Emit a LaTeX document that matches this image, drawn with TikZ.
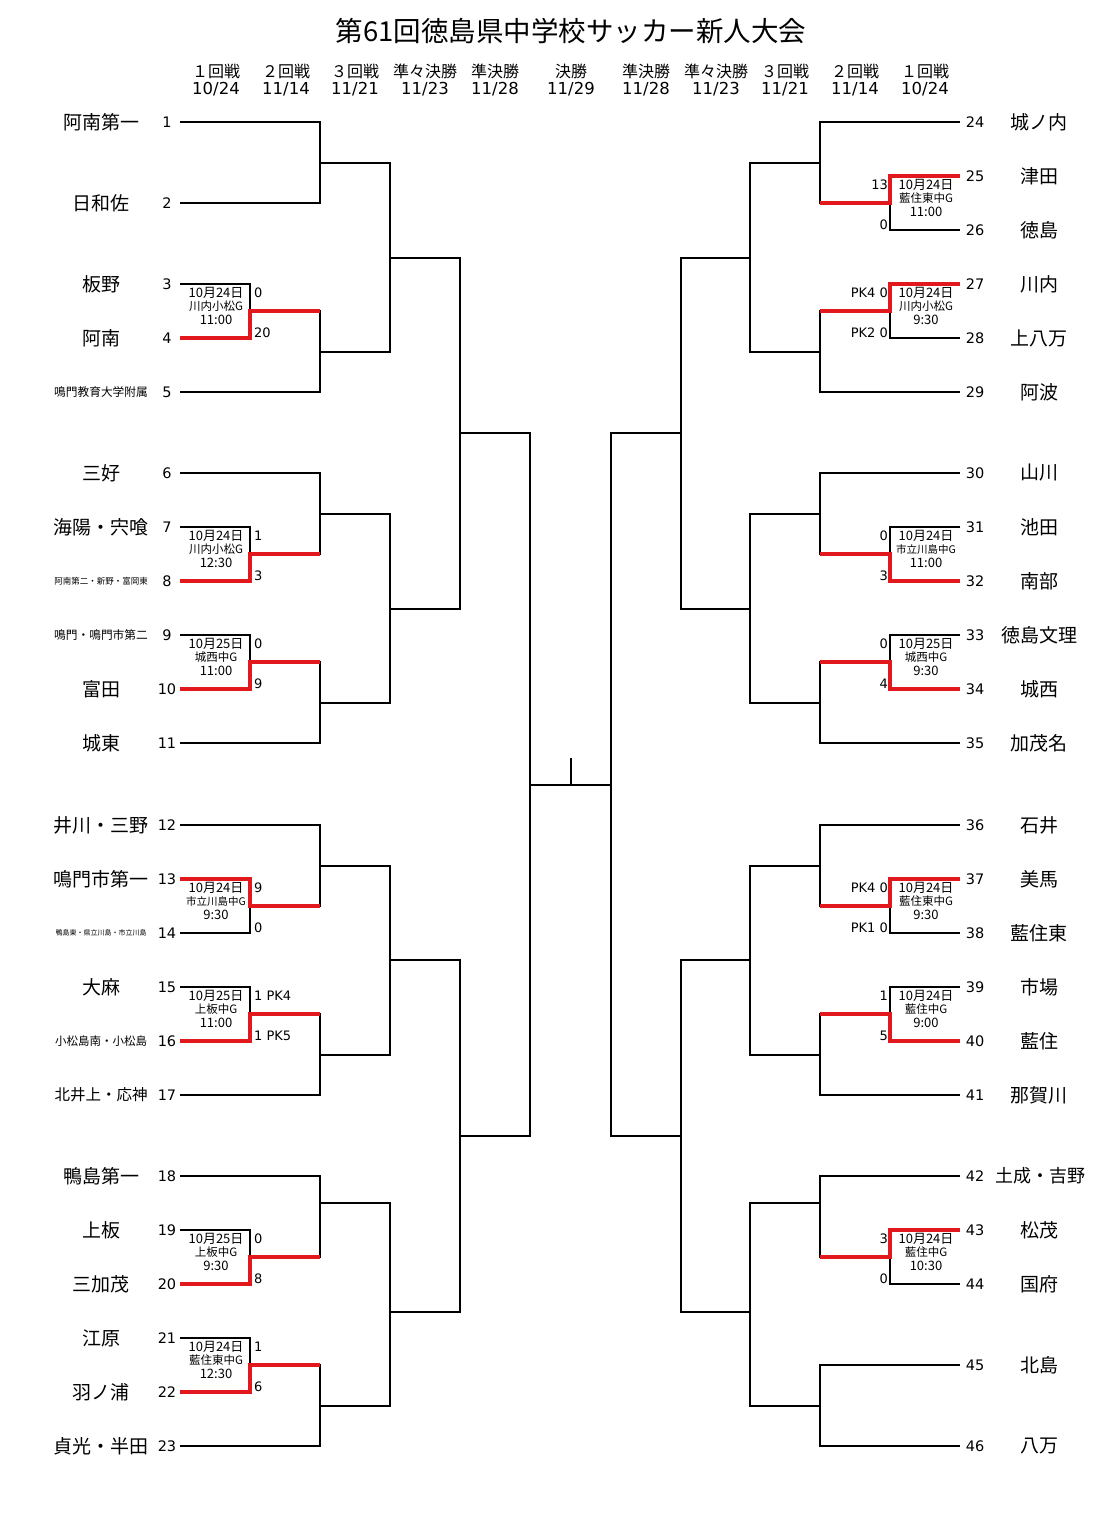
\documentclass[tikz,border=0pt]{standalone}
\usepackage{fontspec}
\setmainfont{Noto Sans CJK JP}
\newfontfamily\numfont{DejaVu Sans}
\usepackage{tikz}
\definecolor{winred}{RGB}{225,25,30}
\newcommand{\venue}[2][11.5]{{\fontsize{#1}{13.5}\selectfont #2}}
\newcommand{\rdate}[1]{{\numfont\fontsize{16.5}{17}\selectfont #1}}

\begin{document}
\begin{tikzpicture}[x=1pt,y=-1pt,every node/.style={inner sep=0pt},
    bracket/.style={line width=2pt},
    winner/.style={winred,line width=4.5pt},
    team/.style={font=\fontsize{19}{19}\selectfont},
    seed/.style={font=\numfont\fontsize{14.5}{15}\selectfont},
    score/.style={font=\numfont\fontsize{13}{13}\selectfont},
    info/.style={align=center,font=\fontsize{13}{13.5}\selectfont},
    roundhead/.style={align=center,font=\fontsize{16}{17}\selectfont}]
    \fill[white] (0,0) rectangle (1093,1533);
    \useasboundingbox (0,0) rectangle (1093,1533);

    \node[font=\fontsize{27.5}{28}\selectfont] (title) at (571,31) {第61回徳島県中学校サッカー新人大会};

    \node[roundhead] (h1) at (216,80) {１回戦\\\rdate{10/24}};
    \node[roundhead] (h2) at (286,80) {２回戦\\\rdate{11/14}};
    \node[roundhead] (h3) at (355,80) {３回戦\\\rdate{11/21}};
    \node[roundhead] (h4) at (425,80) {準々決勝\\\rdate{11/23}};
    \node[roundhead] (h5) at (495,80) {準決勝\\\rdate{11/28}};
    \node[roundhead] (h6) at (571,80) {決勝\\\rdate{11/29}};
    \node[roundhead] (h7) at (646,80) {準決勝\\\rdate{11/28}};
    \node[roundhead] (h8) at (716,80) {準々決勝\\\rdate{11/23}};
    \node[roundhead] (h9) at (785,80) {３回戦\\\rdate{11/21}};
    \node[roundhead] (h10) at (855,80) {２回戦\\\rdate{11/14}};
    \node[roundhead] (h11) at (925,80) {１回戦\\\rdate{10/24}};

    \node[team] (nm1) at (101,122) {阿南第一};
    \node[team] (nm2) at (101,203) {日和佐};
    \node[team] (nm3) at (101,284) {板野};
    \node[team] (nm4) at (101,338) {阿南};
    \node[team,font=\fontsize{11.7}{12}\selectfont] (nm5) at (101,392) {鳴門教育大学附属};
    \node[team] (nm6) at (101,473) {三好};
    \node[team] (nm7) at (101,527) {海陽・宍喰};
    \node[team,font=\fontsize{8.5}{9}\selectfont] (nm8) at (101,581) {阿南第二・新野・富岡東};
    \node[team,font=\fontsize{11.7}{12}\selectfont] (nm9) at (101,635) {鳴門・鳴門市第二};
    \node[team] (nm10) at (101,689) {富田};
    \node[team] (nm11) at (101,743) {城東};
    \node[team] (nm12) at (101,825) {井川・三野};
    \node[team] (nm13) at (101,879) {鳴門市第一};
    \node[team,font=\fontsize{7}{7}\selectfont] (nm14) at (101,933) {鴨島東・県立川島・市立川島};
    \node[team] (nm15) at (101,987) {大麻};
    \node[team,font=\fontsize{11.5}{12}\selectfont] (nm16) at (101,1041) {小松島南・小松島};
    \node[team,font=\fontsize{15.5}{16}\selectfont] (nm17) at (101,1095) {北井上・応神};
    \node[team] (nm18) at (101,1176) {鴨島第一};
    \node[team] (nm19) at (101,1230) {上板};
    \node[team] (nm20) at (101,1284) {三加茂};
    \node[team] (nm21) at (101,1338) {江原};
    \node[team] (nm22) at (101,1392) {羽ノ浦};
    \node[team] (nm23) at (101,1446) {貞光・半田};

    \node[team] (nm24) at (1039,122) {城ノ内};
    \node[team] (nm25) at (1039,176) {津田};
    \node[team] (nm26) at (1039,230) {徳島};
    \node[team] (nm27) at (1039,284) {川内};
    \node[team] (nm28) at (1039,338) {上八万};
    \node[team] (nm29) at (1039,392) {阿波};
    \node[team] (nm30) at (1039,473) {山川};
    \node[team] (nm31) at (1039,527) {池田};
    \node[team] (nm32) at (1039,581) {南部};
    \node[team] (nm33) at (1039,635) {徳島文理};
    \node[team] (nm34) at (1039,689) {城西};
    \node[team] (nm35) at (1039,743) {加茂名};
    \node[team] (nm36) at (1039,825) {石井};
    \node[team] (nm37) at (1039,879) {美馬};
    \node[team] (nm38) at (1039,933) {藍住東};
    \node[team] (nm39) at (1039,987) {市場};
    \node[team] (nm40) at (1039,1041) {藍住};
    \node[team] (nm41) at (1039,1095) {那賀川};
    \node[team,font=\fontsize{18}{18}\selectfont] (nm42) at (1040,1176) {土成・吉野};
    \node[team] (nm43) at (1039,1230) {松茂};
    \node[team] (nm44) at (1039,1284) {国府};
    \node[team] (nm45) at (1039,1365) {北島};
    \node[team] (nm46) at (1039,1446) {八万};

    \node[seed] (s1) at (167,122) {1};
    \node[seed] (s2) at (167,203) {2};
    \node[seed] (s3) at (167,284) {3};
    \node[seed] (s4) at (167,338) {4};
    \node[seed] (s5) at (167,392) {5};
    \node[seed] (s6) at (167,473) {6};
    \node[seed] (s7) at (167,527) {7};
    \node[seed] (s8) at (167,581) {8};
    \node[seed] (s9) at (167,635) {9};
    \node[seed] (s10) at (167,689) {10};
    \node[seed] (s11) at (167,743) {11};
    \node[seed] (s12) at (167,825) {12};
    \node[seed] (s13) at (167,879) {13};
    \node[seed] (s14) at (167,933) {14};
    \node[seed] (s15) at (167,987) {15};
    \node[seed] (s16) at (167,1041) {16};
    \node[seed] (s17) at (167,1095) {17};
    \node[seed] (s18) at (167,1176) {18};
    \node[seed] (s19) at (167,1230) {19};
    \node[seed] (s20) at (167,1284) {20};
    \node[seed] (s21) at (167,1338) {21};
    \node[seed] (s22) at (167,1392) {22};
    \node[seed] (s23) at (167,1446) {23};
    \node[seed] (s24) at (975,122) {24};
    \node[seed] (s25) at (975,176) {25};
    \node[seed] (s26) at (975,230) {26};
    \node[seed] (s27) at (975,284) {27};
    \node[seed] (s28) at (975,338) {28};
    \node[seed] (s29) at (975,392) {29};
    \node[seed] (s30) at (975,473) {30};
    \node[seed] (s31) at (975,527) {31};
    \node[seed] (s32) at (975,581) {32};
    \node[seed] (s33) at (975,635) {33};
    \node[seed] (s34) at (975,689) {34};
    \node[seed] (s35) at (975,743) {35};
    \node[seed] (s36) at (975,825) {36};
    \node[seed] (s37) at (975,879) {37};
    \node[seed] (s38) at (975,933) {38};
    \node[seed] (s39) at (975,987) {39};
    \node[seed] (s40) at (975,1041) {40};
    \node[seed] (s41) at (975,1095) {41};
    \node[seed] (s42) at (975,1176) {42};
    \node[seed] (s43) at (975,1230) {43};
    \node[seed] (s44) at (975,1284) {44};
    \node[seed] (s45) at (975,1365) {45};
    \node[seed] (s46) at (975,1446) {46};

    \coordinate (t1) at (180,122);
    \coordinate (t2) at (180,203);
    \coordinate (t3) at (180,284);
    \coordinate (t4) at (180,338);
    \coordinate (t5) at (180,392);
    \coordinate (t6) at (180,473);
    \coordinate (t7) at (180,527);
    \coordinate (t8) at (180,581);
    \coordinate (t9) at (180,635);
    \coordinate (t10) at (180,689);
    \coordinate (t11) at (180,743);
    \coordinate (t12) at (180,825);
    \coordinate (t13) at (180,879);
    \coordinate (t14) at (180,933);
    \coordinate (t15) at (180,987);
    \coordinate (t16) at (180,1041);
    \coordinate (t17) at (180,1095);
    \coordinate (t18) at (180,1176);
    \coordinate (t19) at (180,1230);
    \coordinate (t20) at (180,1284);
    \coordinate (t21) at (180,1338);
    \coordinate (t22) at (180,1392);
    \coordinate (t23) at (180,1446);
    \coordinate (t24) at (960,122);
    \coordinate (t25) at (960,176);
    \coordinate (t26) at (960,230);
    \coordinate (t27) at (960,284);
    \coordinate (t28) at (960,338);
    \coordinate (t29) at (960,392);
    \coordinate (t30) at (960,473);
    \coordinate (t31) at (960,527);
    \coordinate (t32) at (960,581);
    \coordinate (t33) at (960,635);
    \coordinate (t34) at (960,689);
    \coordinate (t35) at (960,743);
    \coordinate (t36) at (960,825);
    \coordinate (t37) at (960,879);
    \coordinate (t38) at (960,933);
    \coordinate (t39) at (960,987);
    \coordinate (t40) at (960,1041);
    \coordinate (t41) at (960,1095);
    \coordinate (t42) at (960,1176);
    \coordinate (t43) at (960,1230);
    \coordinate (t44) at (960,1284);
    \coordinate (t45) at (960,1365);
    \coordinate (t46) at (960,1446);

    \coordinate (a34) at (250,311);
    \coordinate (a78) at (250,554);
    \coordinate (a910) at (250,662);
    \coordinate (a1314) at (250,906);
    \coordinate (a1516) at (250,1014);
    \coordinate (a1920) at (250,1257);
    \coordinate (a2122) at (250,1365);
    \coordinate (b12) at (320,163);
    \coordinate (b345) at (320,352);
    \coordinate (b678) at (320,514);
    \coordinate (b911) at (320,703);
    \coordinate (b1214) at (320,866);
    \coordinate (b1517) at (320,1055);
    \coordinate (b1820) at (320,1203);
    \coordinate (b2123) at (320,1406);
    \coordinate (c1) at (390,258);
    \coordinate (c2) at (390,609);
    \coordinate (c3) at (390,960);
    \coordinate (c4) at (390,1312);
    \coordinate (d1) at (460,433);
    \coordinate (d2) at (460,1136);
    \coordinate (sL) at (530,785);

    \coordinate (a2526) at (890,203);
    \coordinate (a2728) at (890,311);
    \coordinate (a3132) at (890,554);
    \coordinate (a3334) at (890,662);
    \coordinate (a3738) at (890,906);
    \coordinate (a3940) at (890,1014);
    \coordinate (a4344) at (890,1257);
    \coordinate (b2426) at (820,163);
    \coordinate (b2729) at (820,352);
    \coordinate (b3032) at (820,514);
    \coordinate (b3335) at (820,703);
    \coordinate (b3638) at (820,866);
    \coordinate (b3941) at (820,1055);
    \coordinate (b4244) at (820,1203);
    \coordinate (b4546) at (820,1406);
    \coordinate (c5) at (750,258);
    \coordinate (c6) at (750,609);
    \coordinate (c7) at (750,960);
    \coordinate (c8) at (750,1312);
    \coordinate (d3) at (681,433);
    \coordinate (d4) at (681,1136);
    \coordinate (sR) at (611,785);
    \coordinate (champ) at (571,758);

    \draw[bracket] (t1) -| (b12) |- (t2);
    \draw[bracket] (t3) -| (a34) |- (t4);
    \draw[bracket] (a34) -| (b345) |- (t5);
    \draw[bracket] (b12) -| (c1) |- (b345);
    \draw[bracket] (t7) -| (a78) |- (t8);
    \draw[bracket] (t6) -| (b678) |- (a78);
    \draw[bracket] (t9) -| (a910) |- (t10);
    \draw[bracket] (a910) -| (b911) |- (t11);
    \draw[bracket] (b678) -| (c2) |- (b911);
    \draw[bracket] (c1) -| (d1) |- (c2);
    \draw[bracket] (t13) -| (a1314) |- (t14);
    \draw[bracket] (t12) -| (b1214) |- (a1314);
    \draw[bracket] (t15) -| (a1516) |- (t16);
    \draw[bracket] (a1516) -| (b1517) |- (t17);
    \draw[bracket] (b1214) -| (c3) |- (b1517);
    \draw[bracket] (t19) -| (a1920) |- (t20);
    \draw[bracket] (t18) -| (b1820) |- (a1920);
    \draw[bracket] (t21) -| (a2122) |- (t22);
    \draw[bracket] (a2122) -| (b2123) |- (t23);
    \draw[bracket] (b1820) -| (c4) |- (b2123);
    \draw[bracket] (c3) -| (d2) |- (c4);
    \draw[bracket] (d1) -| (sL) |- (d2);

    \draw[bracket] (t25) -| (a2526) |- (t26);
    \draw[bracket] (t24) -| (b2426) |- (a2526);
    \draw[bracket] (t27) -| (a2728) |- (t28);
    \draw[bracket] (a2728) -| (b2729) |- (t29);
    \draw[bracket] (b2426) -| (c5) |- (b2729);
    \draw[bracket] (t31) -| (a3132) |- (t32);
    \draw[bracket] (t30) -| (b3032) |- (a3132);
    \draw[bracket] (t33) -| (a3334) |- (t34);
    \draw[bracket] (a3334) -| (b3335) |- (t35);
    \draw[bracket] (b3032) -| (c6) |- (b3335);
    \draw[bracket] (c5) -| (d3) |- (c6);
    \draw[bracket] (t37) -| (a3738) |- (t38);
    \draw[bracket] (t36) -| (b3638) |- (a3738);
    \draw[bracket] (t39) -| (a3940) |- (t40);
    \draw[bracket] (a3940) -| (b3941) |- (t41);
    \draw[bracket] (b3638) -| (c7) |- (b3941);
    \draw[bracket] (t43) -| (a4344) |- (t44);
    \draw[bracket] (t42) -| (b4244) |- (a4344);
    \draw[bracket] (t45) -| (b4546) |- (t46);
    \draw[bracket] (b4244) -| (c8) |- (b4546);
    \draw[bracket] (c7) -| (d4) |- (c8);
    \draw[bracket] (d3) -| (sR) |- (d4);

    \draw[bracket] (sL) -- (sR);
    \draw[bracket] (champ) -- (champ |- sL);

    \draw[winner] (t4) -| (a34) -- (a34 -| b345);
    \draw[winner] (t8) -| (a78) -- (a78 -| b678);
    \draw[winner] (t10) -| (a910) -- (a910 -| b911);
    \draw[winner] (t13) -| (a1314) -- (a1314 -| b1214);
    \draw[winner] (t16) -| (a1516) -- (a1516 -| b1517);
    \draw[winner] (t20) -| (a1920) -- (a1920 -| b1820);
    \draw[winner] (t22) -| (a2122) -- (a2122 -| b2123);
    \draw[winner] (t25) -| (a2526) -- (a2526 -| b2426);
    \draw[winner] (t27) -| (a2728) -- (a2728 -| b2729);
    \draw[winner] (t32) -| (a3132) -- (a3132 -| b3032);
    \draw[winner] (t34) -| (a3334) -- (a3334 -| b3335);
    \draw[winner] (t37) -| (a3738) -- (a3738 -| b3638);
    \draw[winner] (t40) -| (a3940) -- (a3940 -| b3941);
    \draw[winner] (t43) -| (a4344) -- (a4344 -| b4244);

    \node[info] (i34) at (216,305.5) {10月24日\\\venue{川内小松G}\\11:00};
    \node[info] (i78) at (216,548.5) {10月24日\\\venue{川内小松G}\\12:30};
    \node[info] (i910) at (216,656.5) {10月25日\\\venue{城西中G}\\11:00};
    \node[info] (i1314) at (216,900.5) {10月24日\\\venue[10.5]{市立川島中G}\\9:30};
    \node[info] (i1516) at (216,1008.5) {10月25日\\\venue{上板中G}\\11:00};
    \node[info] (i1920) at (216,1251.5) {10月25日\\\venue{上板中G}\\9:30};
    \node[info] (i2122) at (216,1359.5) {10月24日\\\venue{藍住東中G}\\12:30};
    \node[info] (i2526) at (926,197.5) {10月24日\\\venue{藍住東中G}\\11:00};
    \node[info] (i2728) at (926,305.5) {10月24日\\\venue{川内小松G}\\9:30};
    \node[info] (i3132) at (926,548.5) {10月24日\\\venue[10.5]{市立川島中G}\\11:00};
    \node[info] (i3334) at (926,656.5) {10月25日\\\venue{城西中G}\\9:30};
    \node[info] (i3738) at (926,900.5) {10月24日\\\venue{藍住東中G}\\9:30};
    \node[info] (i3940) at (926,1008.5) {10月24日\\\venue{藍住中G}\\9:00};
    \node[info] (i4344) at (926,1251.5) {10月24日\\\venue{藍住中G}\\10:30};

    \node[score,anchor=west] (r3) at (254,292.5) {0};
    \node[score,anchor=west] (r4) at (254,332.5) {20};
    \node[score,anchor=west] (r7) at (254,535.5) {1};
    \node[score,anchor=west] (r8) at (254,575.5) {3};
    \node[score,anchor=west] (r9) at (254,643.5) {0};
    \node[score,anchor=west] (r10) at (254,683.5) {9};
    \node[score,anchor=west] (r13) at (254,887.5) {9};
    \node[score,anchor=west] (r14) at (254,927.5) {0};
    \node[score,anchor=west] (r15) at (254,995.5) {1 PK4};
    \node[score,anchor=west] (r16) at (254,1035.5) {1 PK5};
    \node[score,anchor=west] (r19) at (254,1238.5) {0};
    \node[score,anchor=west] (r20) at (254,1278.5) {8};
    \node[score,anchor=west] (r21) at (254,1346.5) {1};
    \node[score,anchor=west] (r22) at (254,1386.5) {6};
    \node[score,anchor=east] (r25) at (888,184.5) {13};
    \node[score,anchor=east] (r26) at (888,224.5) {0};
    \node[score,anchor=east] (r27) at (888,292.5) {PK4 0};
    \node[score,anchor=east] (r28) at (888,332.5) {PK2 0};
    \node[score,anchor=east] (r31) at (888,535.5) {0};
    \node[score,anchor=east] (r32) at (888,575.5) {3};
    \node[score,anchor=east] (r33) at (888,643.5) {0};
    \node[score,anchor=east] (r34) at (888,683.5) {4};
    \node[score,anchor=east] (r37) at (888,887.5) {PK4 0};
    \node[score,anchor=east] (r38) at (888,927.5) {PK1 0};
    \node[score,anchor=east] (r39) at (888,995.5) {1};
    \node[score,anchor=east] (r40) at (888,1035.5) {5};
    \node[score,anchor=east] (r43) at (888,1238.5) {3};
    \node[score,anchor=east] (r44) at (888,1278.5) {0};
\end{tikzpicture}
\end{document}
